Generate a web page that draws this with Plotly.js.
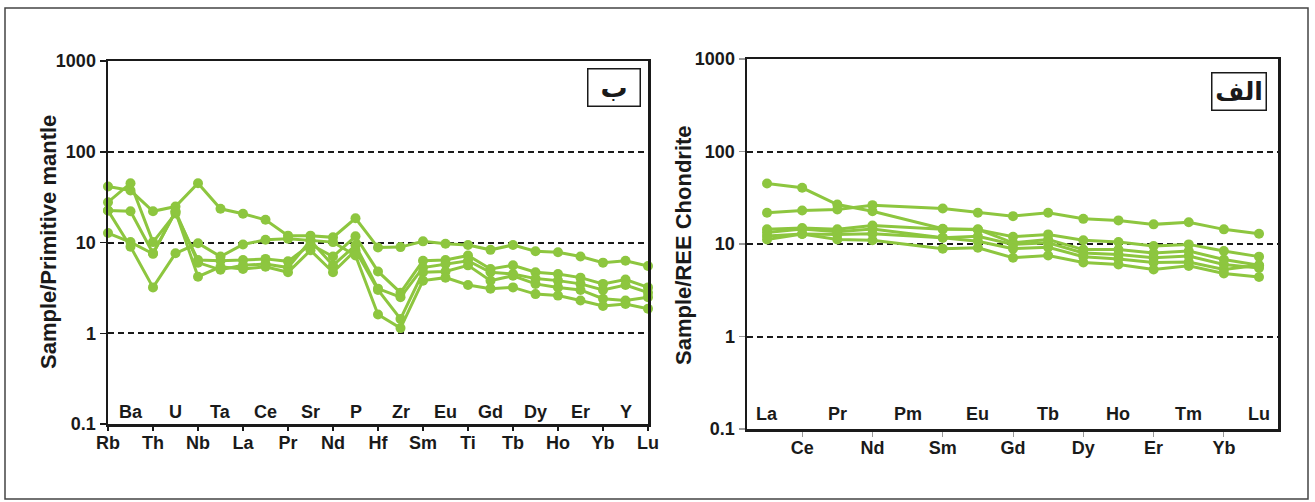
<!DOCTYPE html>
<html>
<head>
<meta charset="utf-8">
<script src="https://cdn.plot.ly/plotly-3.0.1.min.js"></script>
<style>
  html, body { margin: 0; padding: 0; background: #fff; }
  #chart { width: 1315px; height: 502px; }
</style>
</head>
<body>
<div id="chart"></div>
<script>
// ---------- Data: primitive-mantle normalised spider diagram (panel ب) ----------
const SPIDER_ELEMENTS = ['Rb','Ba','Th','U','Nb','Ta','La','Ce','Pr','Sr','Nd','P','Hf','Zr','Sm','Eu','Ti','Gd','Tb','Dy','Ho','Er','Yb','Y','Lu'];
const spider1 = [41.4, 37.4, 22.1, 24.9, 45.0, 23.5, 20.7, 17.8, 11.9, 11.9, 11.4, 18.5, 8.8, 8.9, 10.3, 9.7, 9.4, 8.3, 9.4, 8.0, 7.8, 7.0, 6.0, 6.3, 5.5];
const spider2 = [27.8, 45.0, 10.1, 20.9, 6.4, 6.3, 6.4, 6.6, 6.2, 9.5, 7.0, 11.7, 4.8, 2.8, 6.3, 6.4, 7.2, 5.1, 5.6, 4.7, 4.5, 4.1, 3.5, 3.9, 3.2];
const spider3 = [22.5, 22.1, 7.6, 22.0, 6.0, 5.0, 5.6, 5.8, 5.3, 10.5, 5.6, 9.3, 3.1, 2.5, 5.3, 5.8, 6.3, 4.7, 4.5, 4.0, 3.8, 3.5, 3.0, 3.4, 2.8];
const spider4 = [12.7, 10.1, 7.5, 22.0, 4.2, 5.4, 5.1, 5.4, 4.7, 8.2, 4.7, 8.2, 3.0, 1.44, 4.7, 4.8, 5.6, 3.8, 4.3, 3.5, 3.2, 3.0, 2.4, 2.3, 2.5];
const spider5 = [22.5, 9.0, 3.2, 7.6, 9.8, 7.0, 9.5, 10.7, 11.0, 10.5, 10.1, 7.2, 1.61, 1.14, 3.8, 4.1, 3.4, 3.1, 3.2, 2.7, 2.6, 2.3, 2.0, 2.1, 1.86];

// ---------- Data: chondrite-normalised REE diagram (panel الف) ----------
const REE_ELEMENTS = ['La','Ce','Pr','Nd','Pm','Sm','Eu','Gd','Tb','Dy','Ho','Er','Tm','Yb','Lu'];
const ree1 = [45.1, 40.5, 26.7, 22.6, null, 14.6, 14.3, 12.0, 12.7, 11.0, 10.5, 9.5, 9.9, 8.4, 7.3];
const ree2 = [21.8, 23.0, 23.6, 26.3, null, 24.2, 21.8, 20.0, 21.8, 18.7, 18.0, 16.3, 17.2, 14.4, 12.9];
const ree3 = [14.4, 14.9, 14.4, 15.8, null, 14.4, 14.4, 10.3, 11.2, 8.7, 8.7, 8.0, 8.4, 6.8, 5.9];
const ree4 = [13.3, 14.5, 13.6, 14.5, null, 11.7, 12.1, 9.9, 10.3, 8.0, 7.7, 7.1, 7.4, 6.0, 5.5];
const ree5 = [12.2, 12.8, 12.7, 12.9, null, 11.7, 10.7, 8.9, 9.2, 7.3, 6.9, 6.3, 6.4, 5.3, 5.9];
const ree6 = [11.2, 12.8, 11.2, 11.0, null, 8.9, 9.1, 7.1, 7.5, 6.3, 6.0, 5.3, 5.8, 4.8, 4.4];

const Y_TICKS = [0.1, 1, 10, 100, 1000];
const Y_TICK_TEXT = ['0.1', '1', '10', '100', '1000'];
const LEFT_TITLE = 'Sample/Primitive mantle';
const RIGHT_TITLE = 'Sample/REE Chondrite';
const LEFT_TAG = 'ب';
const RIGHT_TAG = 'الف';

// ---------- Styling ----------
const GREEN = '#8dc63f';
const INK = '#1a1a1a';
const FONT = 'Liberation Sans, Arial, Helvetica, sans-serif';
const W = 1315, H = 502;
const px = v => v / W;          // pixel -> paper x
const py = v => 1 - v / H;      // pixel -> paper y

function seriesTraces(list, names, xa, ya) {
  const xs = names.map((_, i) => i);
  return list.map(vals => ({
    type: 'scatter', mode: 'lines+markers',
    x: xs, y: vals, xaxis: xa, yaxis: ya,
    connectgaps: true, cliponaxis: false,
    line: { color: GREEN, width: 3 },
    marker: { color: GREEN, size: 10 },
    hoverinfo: 'skip', showlegend: false
  }));
}

const traces = [
  ...seriesTraces([spider1, spider2, spider3, spider4, spider5], SPIDER_ELEMENTS, 'x', 'y'),
  ...seriesTraces([ree1, ree2, ree3, ree4, ree5, ree6], REE_ELEMENTS, 'x2', 'y2')
];

const spLowIdx = SPIDER_ELEMENTS.map((_, i) => i).filter(i => i % 2 === 0);
const spUpIdx = SPIDER_ELEMENTS.map((_, i) => i).filter(i => i % 2 === 1);
const reeUpIdx = REE_ELEMENTS.map((_, i) => i).filter(i => i % 2 === 0);
const reeLowIdx = REE_ELEMENTS.map((_, i) => i).filter(i => i % 2 === 1);

const tickFont = { family: FONT, size: 18, color: INK, weight: 700 };
const titleFont = { family: FONT, size: 22, color: INK, weight: 700 };

function yAxis(domain, tickcolor) {
  return {
    domain: domain, type: 'log', range: [-1, 3],
    tickvals: Y_TICKS, ticktext: Y_TICK_TEXT,
    ticks: 'outside', ticklen: 6, tickwidth: 1.5, tickcolor: tickcolor,
    tickfont: tickFont,
    showgrid: true, gridcolor: INK, gridwidth: 2, griddash: '6px,4px',
    showline: true, linecolor: INK, linewidth: 2.5, mirror: true,
    zeroline: false, automargin: false, fixedrange: true
  };
}

const annotations = [];
spUpIdx.forEach(i => annotations.push({
  xref: 'x', yref: 'y domain', x: i, y: 0, yanchor: 'bottom', yshift: 0,
  text: SPIDER_ELEMENTS[i], showarrow: false, font: tickFont
}));
reeUpIdx.forEach(i => annotations.push({
  xref: 'x2', yref: 'y2 domain', x: i, y: 0, yanchor: 'bottom', yshift: 3,
  text: REE_ELEMENTS[i], showarrow: false, font: tickFont
}));
// axis titles (rotated)
annotations.push({
  xref: 'paper', yref: 'paper', x: px(48), y: py(242), xanchor: 'center', yanchor: 'middle',
  text: LEFT_TITLE, textangle: -90, showarrow: false, font: titleFont
});
annotations.push({
  xref: 'paper', yref: 'paper', x: px(683), y: py(245), xanchor: 'center', yanchor: 'middle',
  text: RIGHT_TITLE, textangle: -90, showarrow: false, font: titleFont
});
// panel tags
annotations.push({
  xref: 'paper', yref: 'paper', x: px(614), y: py(87), xanchor: 'center', yanchor: 'middle',
  text: LEFT_TAG, showarrow: false, width: 51, height: 36,
  bordercolor: INK, borderwidth: 1.5, borderpad: 0,
  font: { family: 'DejaVu Sans', size: 27, color: INK, weight: 700 }
});
annotations.push({
  xref: 'paper', yref: 'paper', x: px(1238.7), y: py(91.5), xanchor: 'center', yanchor: 'middle',
  text: RIGHT_TAG, showarrow: false, width: 53, height: 36,
  bordercolor: INK, borderwidth: 1.5, borderpad: 0,
  font: { family: 'DejaVu Sans', size: 25, color: INK, weight: 700 }
});

const layout = {
  width: W, height: H,
  margin: { l: 0, r: 0, t: 0, b: 0 },
  paper_bgcolor: '#fff', plot_bgcolor: '#fff',
  showlegend: false, hovermode: false,
  xaxis: {
    domain: [px(108), px(648)], range: [0, SPIDER_ELEMENTS.length - 1], anchor: 'y',
    tickvals: spLowIdx, ticktext: spLowIdx.map(i => SPIDER_ELEMENTS[i]),
    ticks: 'outside', ticklen: 4, tickwidth: 1.5, tickcolor: INK,
    tickfont: tickFont, ticklabelstandoff: -3,
    showline: true, linecolor: INK, linewidth: 2.5, mirror: true,
    showgrid: false, zeroline: false, automargin: false, fixedrange: true
  },
  xaxis3: {
    overlaying: 'x', anchor: 'y', range: [0, SPIDER_ELEMENTS.length - 1],
    tickvals: SPIDER_ELEMENTS.map((_, i) => i), ticks: 'inside', ticklen: 4, tickwidth: 1.5, tickcolor: INK,
    showticklabels: false, showline: false, showgrid: false, zeroline: false, fixedrange: true
  },
  yaxis: Object.assign(yAxis([py(424), py(61)], INK), { anchor: 'x' }),
  xaxis2: {
    domain: [px(747), px(1278)], range: [-0.57, REE_ELEMENTS.length - 1 + 0.54], anchor: 'y2',
    tickvals: reeLowIdx, ticktext: reeLowIdx.map(i => REE_ELEMENTS[i]),
    ticks: 'outside', ticklen: 5, tickwidth: 1, tickcolor: '#999',
    tickfont: tickFont, ticklabelstandoff: -4,
    showline: true, linecolor: INK, linewidth: 2.5, mirror: true,
    showgrid: false, zeroline: false, automargin: false, fixedrange: true
  },
  xaxis4: {
    overlaying: 'x2', anchor: 'y2', range: [-0.57, REE_ELEMENTS.length - 1 + 0.54],
    tickvals: reeUpIdx, ticks: 'inside', ticklen: 5, tickwidth: 1, tickcolor: '#999',
    showticklabels: false, showline: false, showgrid: false, zeroline: false, fixedrange: true
  },
  yaxis2: Object.assign(yAxis([py(429), py(59)], '#999'), { anchor: 'x2' }),
  annotations: annotations,
  shapes: [{
    type: 'rect', xref: 'paper', yref: 'paper',
    x0: px(5), x1: px(1308), y0: py(499), y1: py(8),
    line: { color: '#444', width: 1.5 }, fillcolor: 'rgba(0,0,0,0)', layer: 'below'
  }]
};

Plotly.newPlot('chart', traces, layout, { staticPlot: true, displayModeBar: false });
</script>
</body>
</html>
